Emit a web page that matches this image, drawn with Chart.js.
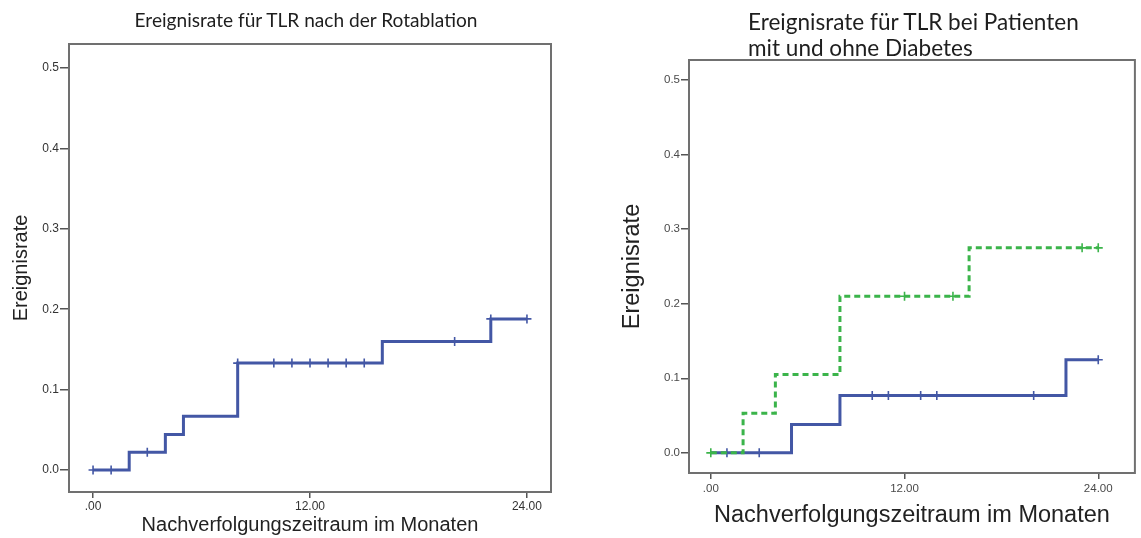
<!DOCTYPE html>
<html lang="de">
<head>
    <meta charset="UTF-8">
    <title>Ereignisrate TLR</title>
    <script src="https://cdn.jsdelivr.net/npm/chart.js"></script>
    <style>
        body { margin: 0; background: #fff; }
        .panel { position: absolute; top: 0; height: 538px; }
        #links { left: 0; width: 570px; }
        #rechts { left: 580px; width: 561px; }
        .titel {
            position: absolute;
            font-family: Lato, 'Open Sans', sans-serif;
            color: #1e1e1e;
            white-space: nowrap;
        }
    </style>
</head>
<body>

    <div class="panel" id="links"><canvas id="grafico_links"></canvas></div>
    <div class="panel" id="rechts"><canvas id="grafico_rechts"></canvas></div>

    <div class="titel" id="titel_links">Ereignisrate für TLR nach der Rotablation</div>
    <div class="titel" id="titel_rechts">Ereignisrate für TLR bei Patienten<br>mit und ohne Diabetes</div>

    <script>

        // linkes Diagramm: alle Patienten nach Rotablation
        const zeitLinks = [0, 2, 4, 5, 8, 16, 22, 24];
        const rateLinks = [0, 0.022, 0.044, 0.067, 0.133, 0.160, 0.188, 0.188];
        const zensLinksX = [0, 1, 3, 8, 10, 11, 12, 13, 14, 15, 20, 22, 24];
        const zensLinksY = [0, 0, 0.022, 0.133, 0.133, 0.133, 0.133, 0.133, 0.133, 0.133, 0.160, 0.188, 0.188];

        // rechtes Diagramm: ohne Diabetes (blau)
        const zeitOhne = [0, 5, 8, 22, 24];
        const rateOhne = [0, 0.038, 0.077, 0.125, 0.125];
        const zensOhneX = [1, 3, 10, 11, 13, 14, 20, 24];
        const zensOhneY = [0, 0, 0.077, 0.077, 0.077, 0.077, 0.077, 0.125];

        // rechtes Diagramm: mit Diabetes (gruen, gestrichelt)
        const zeitMit = [0, 2, 4, 8, 16, 24];
        const rateMit = [0, 0.053, 0.105, 0.21, 0.275, 0.275];
        const zensMitX = [0, 12, 15, 23, 24];
        const zensMitY = [0, 0.21, 0.21, 0.275, 0.275];

        const xTicks = [0, 12, 24];
        const xTickLabels = ['.00', '12.00', '24.00'];
        const yTicks = [0, 0.1, 0.2, 0.3, 0.4, 0.5];
        const yTickLabels = ['0.0', '0.1', '0.2', '0.3', '0.4', '0.5'];

        const blau = '#4357a5';
        const gruen = '#3bb44a';

        Chart.defaults.font.family = "'Liberation Sans', Arial, sans-serif";
        Chart.defaults.animation = false;

        const paare = (xs, ys) => xs.map((x, i) => ({ x: x, y: ys[i] }));

        // Rahmen um die Zeichenflaeche
        const rahmen = {
            id: 'rahmen',
            beforeDatasetsDraw(chart) {
                const { ctx, chartArea: a } = chart;
                ctx.save();
                ctx.strokeStyle = '#707070';
                ctx.lineWidth = 2;
                ctx.strokeRect(a.left, a.top, a.right - a.left, a.bottom - a.top);
                ctx.restore();
            }
        };

        const kurve = (xs, ys, farbe, strich) => ({
            data: paare(xs, ys),
            showLine: true,
            stepped: true,
            borderColor: farbe,
            borderWidth: 3,
            borderDash: strich,
            pointRadius: 0,
            fill: false
        });

        const zensiert = (xs, ys, farbe) => ({
            data: paare(xs, ys),
            showLine: false,
            pointStyle: 'cross',
            pointRadius: 4.5,
            borderColor: farbe,
            borderWidth: 1.6,
            backgroundColor: farbe
        });

        const optionen = (p) => ({
            responsive: true,
            maintainAspectRatio: false,
            layout: { padding: { left: 0, top: p.top, right: p.right, bottom: 0 } },
            plugins: { legend: { display: false }, tooltip: { enabled: false } },
            scales: {
                x: {
                    type: 'linear',
                    min: p.xMin, max: p.xMax,
                    afterBuildTicks: s => { s.ticks = xTicks.map(v => ({ value: v })); },
                    afterFit: s => { s.height = p.xHoehe; },
                    ticks: {
                        callback: v => xTickLabels[xTicks.indexOf(v)],
                        font: { size: p.tickSize },
                        color: p.tickFarbe,
                        padding: p.xPad,
                        maxRotation: 0
                    },
                    grid: { drawOnChartArea: false, tickLength: 6, color: '#555', lineWidth: 1.5 },
                    border: { display: false },
                    title: {
                        display: true,
                        text: 'Nachverfolgungszeitraum im Monaten',
                        font: { size: p.titelSize },
                        color: '#222',
                        padding: { top: 0, bottom: p.xTitelPad }
                    }
                },
                y: {
                    type: 'linear',
                    min: p.yMin, max: p.yMax,
                    afterBuildTicks: s => { s.ticks = yTicks.map(v => ({ value: v })); },
                    afterFit: s => { s.width = p.yBreite; },
                    ticks: {
                        callback: v => yTickLabels[yTicks.indexOf(v)],
                        font: { size: p.tickSize },
                        color: p.tickFarbe,
                        padding: 1
                    },
                    grid: { drawOnChartArea: false, tickLength: p.yTick, color: '#555', lineWidth: 1.5 },
                    border: { display: false },
                    title: {
                        display: true,
                        text: 'Ereignisrate',
                        font: { size: p.titelSize },
                        color: '#222',
                        padding: { top: p.yTitelPad, bottom: 0 }
                    }
                }
            }
        });

        const grafico_links = new Chart(document.getElementById('grafico_links'), {
            type: 'scatter',
            data: {
                datasets: [
                    kurve(zeitLinks, rateLinks, blau, []),
                    zensiert(zensLinksX, zensLinksY, blau)
                ]
            },
            options: optionen({
                top: 44, right: 19, xHoehe: 46, yBreite: 69,
                xMin: -1.33, xMax: 25.33, yMin: -0.0274, yMax: 0.53,
                tickSize: 12, tickFarbe: '#333', xPad: 1.5, yTick: 9,
                titelSize: 20, xTitelPad: 1, yTitelPad: 9
            }),
            plugins: [rahmen]
        });

        const grafico_rechts = new Chart(document.getElementById('grafico_rechts'), {
            type: 'scatter',
            data: {
                datasets: [
                    kurve(zeitMit, rateMit, gruen, [6, 4]),
                    zensiert(zensMitX, zensMitY, gruen),
                    kurve(zeitOhne, rateOhne, blau, []),
                    zensiert(zensOhneX, zensOhneY, blau)
                ]
            },
            options: optionen({
                top: 60, right: 2, xHoehe: 65, yBreite: 109,
                xMin: -1.35, xMax: 26.27, yMin: -0.027, yMax: 0.527,
                tickSize: 11.5, tickFarbe: '#4a4a4a', xPad: 3, yTick: 8,
                titelSize: 23.5, xTitelPad: 8, yTitelPad: 38
            }),
            plugins: [rahmen]
        });

        // Titel auf Zielbreite bringen
        const titel = (id, breite, hoehe) => {
            const el = document.getElementById(id);
            el.style.fontSize = '20px';
            el.style.lineHeight = hoehe + 'px';
            const w = el.getBoundingClientRect().width;
            el.style.fontSize = (20 * breite / w).toFixed(2) + 'px';
            return el;
        };

        const t1 = titel('titel_links', 343, 24);
        t1.style.left = (306 - t1.getBoundingClientRect().width / 2) + 'px';
        t1.style.top = '8px';

        const t2 = titel('titel_rechts', 331, 26);
        t2.style.left = '748px';
        t2.style.top = '9px';

    </script>

</body>
</html>
